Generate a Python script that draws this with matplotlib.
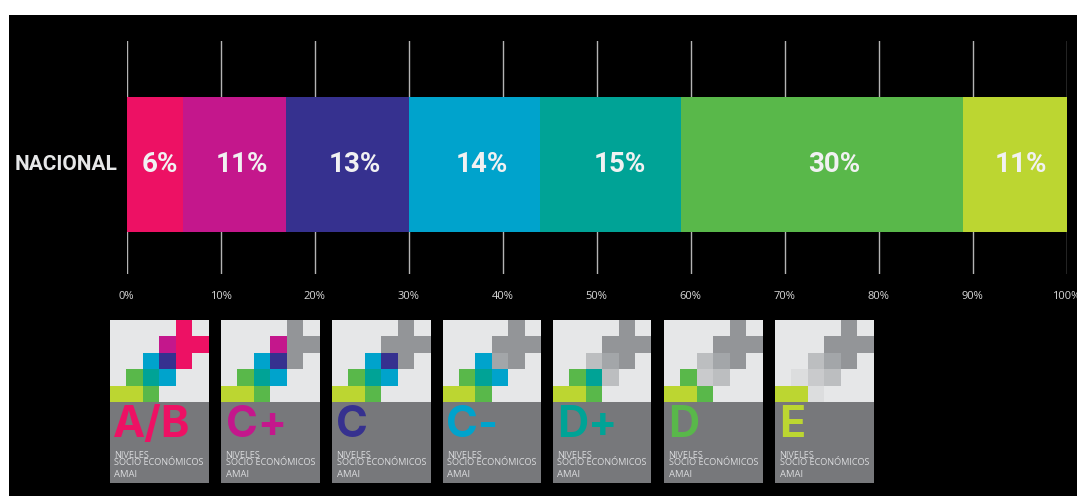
import matplotlib
matplotlib.use("Agg")
import matplotlib.pyplot as plt

W, H = 1077, 496

# bar data
row_label = "NACIONAL"
values = [6, 11, 13, 14, 15, 30, 11]
value_labels = ["6%", "11%", "13%", "14%", "15%", "30%", "11%"]
colors = ["#ED1164", "#C4178C", "#36318F", "#00A3CC", "#00A396", "#59B84A", "#BCD631"]
ticks = [0, 10, 20, 30, 40, 50, 60, 70, 80, 90, 100]
tick_labels = ["0%", "10%", "20%", "30%", "40%", "50%", "60%", "70%", "80%", "90%", "100%"]

# logo cards, one per level
card_names = ["A/B", "C+", "C", "C-", "D+", "D", "E"]
card_lefts = [110, 221, 332, 442.5, 553, 664, 775]
# logo squares (column, row) that belong to each level
level_cells = [
    [(4, 0), (4, 1), (5, 1), (4, 2)],
    [(3, 1)],
    [(3, 2)],
    [(2, 2), (3, 3)],
    [(2, 3)],
    [(1, 3), (2, 4)],
    [(0, 4), (1, 4)],
]
off_colors = ["#939598", "#939598", "#A3A6A9", "#BCBEC0", "#C9CACC", "#DCDDDE", "#DCDDDE"]
card_light = "#E6E7E8"
card_dark = "#77787B"
card_text = "#DADBDD"

# labels sit a little right of the segment centres in the original
label_shift = [0.5, 0.75, 0.75, 0.85, 0.95, 1.25, 0.65]
letter_x = [3, 4.5, 4, 4, 4.5, 4.5, 4]

fig = plt.figure(figsize=(W / 100, H / 100), dpi=100, facecolor="white")

# black panel
panel = fig.add_axes([9 / W, 0, 1 - 9 / W, 1 - 15 / H])
panel.set_facecolor("black")
panel.set_xticks([])
panel.set_yticks([])
for s in panel.spines.values():
    s.set_visible(False)

# stacked bar
ax = fig.add_axes([126.5 / W, 1 - 274 / H, 940 / W, 233 / H])
ax.patch.set_visible(False)
ax.set_xlim(0, 100)
ax.set_ylim(-109.5, 123.5)
left = 0
for v, c, lab, sh in zip(values, colors, value_labels, label_shift):
    ax.barh(0, v, left=left, height=135, color=c, zorder=3)
    ax.text(left + v / 2 + sh, 0, lab, color="#F1F1F2", ha="center", va="center", fontsize=20,
            fontweight="bold", family="Roboto", zorder=4)
    left += v
ax.set_xticks(ticks)
ax.set_xticklabels(tick_labels, fontsize=8, color="#D8D8D8", family="Open Sans")
ax.tick_params(axis="x", length=0, pad=12)
ax.set_yticks([])
ax.xaxis.grid(True, color="#B4B4B4", lw=1)
ax.set_axisbelow(True)
for s in ax.spines.values():
    s.set_visible(False)
ax.text(-0.95, 0, row_label, color="#E6E7E8", ha="right", va="center", fontsize=15,
        fontweight="bold", family="Roboto")

# logo cards
card_w = 98.5
card_h = 163
for i, (name, x0) in enumerate(zip(card_names, card_lefts)):
    a = fig.add_axes([x0 / W, 1 - (320 + card_h) / H, card_w / W, card_h / H])
    a.set_xlim(0, card_w)
    a.set_ylim(card_h, 0)
    a.axis("off")
    a.add_patch(plt.Rectangle((0, 0), card_w, 82, color=card_light, lw=0))
    a.add_patch(plt.Rectangle((0, 82), card_w, card_h - 82, color=card_dark, lw=0))
    size = card_w / 6
    # greyed levels first, then the ones still lit
    for j, cells in enumerate(level_cells):
        c = colors[j] if j >= i else off_colors[j]
        for col, row in cells:
            a.bar(col * size, size, width=size, bottom=row * size, align="edge", color=c, lw=0)
    a.text(letter_x[i], 117, name, color=colors[i], fontsize=31, fontweight="bold", family="Inter",
           ha="left", va="baseline")
    a.text(4.5, 145, "SOCIO ECONÓMICOS", color=card_text, fontsize=6.6, family="Open Sans",
           ha="left", va="baseline")
    a.text(4.5, 138, "NIVELES", color=card_text, fontsize=6.6, family="Open Sans",
           ha="left", va="baseline")
    a.text(4.5, 157, "AMAI", color=card_text, fontsize=6.8, family="Open Sans",
           ha="left", va="baseline")

fig.savefig("out.png", dpi=100, facecolor="white")
